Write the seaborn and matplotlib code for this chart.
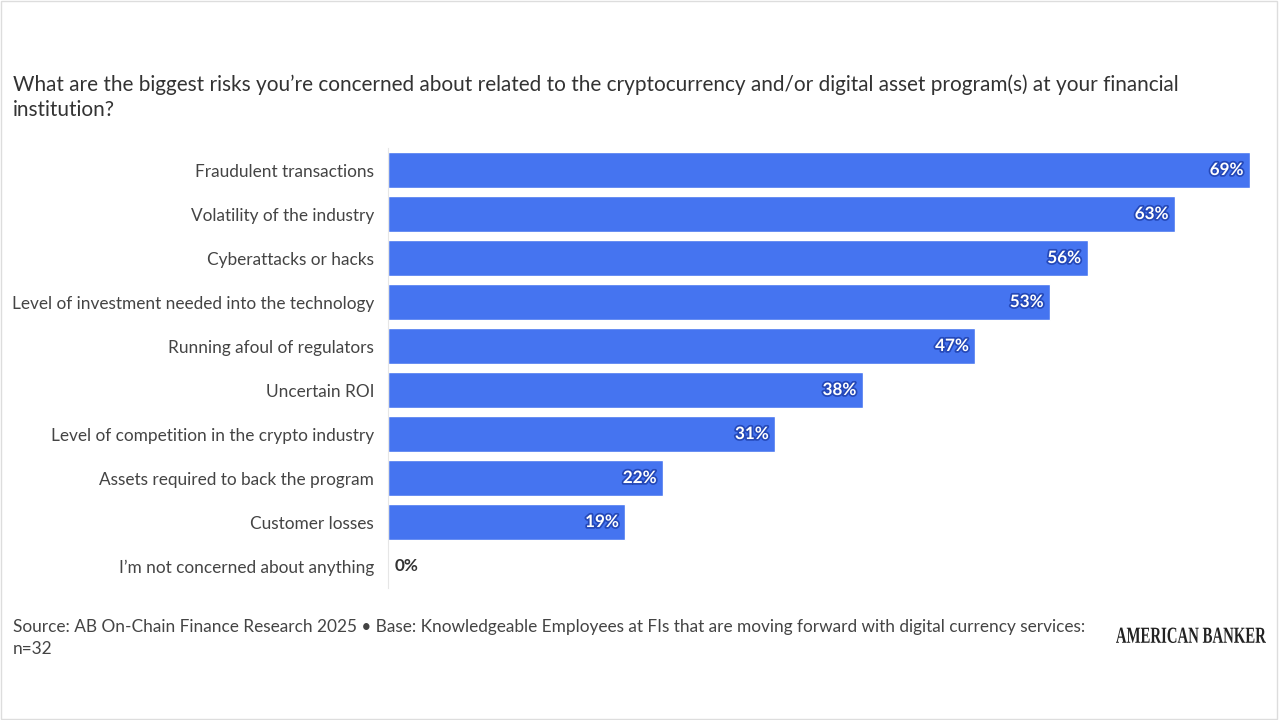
import seaborn as sns
import matplotlib.pyplot as plt
import matplotlib.patheffects as pe
from matplotlib.textpath import TextPath
from matplotlib.patches import PathPatch
from matplotlib.font_manager import FontProperties
from matplotlib.transforms import Affine2D
import pandas as pd

categories = [
    "Fraudulent transactions",
    "Volatility of the industry",
    "Cyberattacks or hacks",
    "Level of investment needed into the technology",
    "Running afoul of regulators",
    "Uncertain ROI",
    "Level of competition in the crypto industry",
    "Assets required to back the program",
    "Customer losses",
    "I\u2019m not concerned about anything",
]
values = [69, 63, 56, 53, 47, 38, 31, 22, 19, 0]

title = ("What are the biggest risks you\u2019re concerned about related to the cryptocurrency "
         "and/or digital asset program(s) at your financial\ninstitution?")
source = ("Source: AB On-Chain Finance Research 2025 \u2022 Base: Knowledgeable Employees at FIs "
          "that are moving forward with digital currency services:\nn=32")

BAR = "#4574f0"
TXT = "#444444"

sns.set_theme(style="white")
plt.rcParams["font.family"] = ["Lato", "DejaVu Sans"]

df = pd.DataFrame({"risk": categories, "pct": values})

fig = plt.figure(figsize=(12.8, 7.2), dpi=100)
ax = fig.add_axes([0.3031, 0.1833, 0.6734, 0.6111])

sns.barplot(data=df, y="risk", x="pct", color=BAR, saturation=1, width=0.8, ax=ax)
ax.set_xlim(0, 69)
ax.set_xlabel("")
ax.set_ylabel("")
ax.set_xticks([])
ax.tick_params(axis="y", length=0, pad=10, labelsize=12.45, labelcolor=TXT)
for s in ["top", "right", "bottom"]:
    ax.spines[s].set_visible(False)
ax.spines["left"].set_color("#e6e6e6")
ax.spines["left"].set_linewidth(0.8)

for i, v in enumerate(values):
    if v > 0:
        ax.text(v - 0.5, i, f"{v}%", ha="right", va="center", fontsize=12.3,
                fontweight="bold", color="white",
                path_effects=[pe.withStroke(linewidth=2.5, foreground="#2448b8")])
    else:
        ax.text(v + 0.5, i, f"{v}%", ha="left", va="center", fontsize=12.3,
                fontweight="bold", color="#333333")

fig.text(13 / 1280, 1 - 97 / 720, title, ha="left", va="center", fontsize=14.95,
         color="#333333", linespacing=1.31)
fig.text(13 / 1280, 1 - 638 / 720, source, ha="left", va="center", fontsize=12.4,
         color=TXT, linespacing=1.43)

# condensed serif wordmark drawn in pixel space
logo = TextPath((0, 0), "AMERICAN BANKER", size=23,
                prop=FontProperties(family="Liberation Serif", weight="bold"))
ext = logo.get_extents()
sx = 150 / ext.width
tr = Affine2D().translate(-ext.x0, -ext.y0).scale(sx, 1).translate(1116, 720 - 643)
fig.patches.append(PathPatch(logo, transform=tr, facecolor="#222222", edgecolor="none"))

fig.patches.append(plt.Rectangle((0.001, 0.001), 0.997, 0.997, transform=fig.transFigure,
                                 fill=False, edgecolor="#dddddd", linewidth=1))

fig.savefig("out.png", dpi=100, facecolor="white")
